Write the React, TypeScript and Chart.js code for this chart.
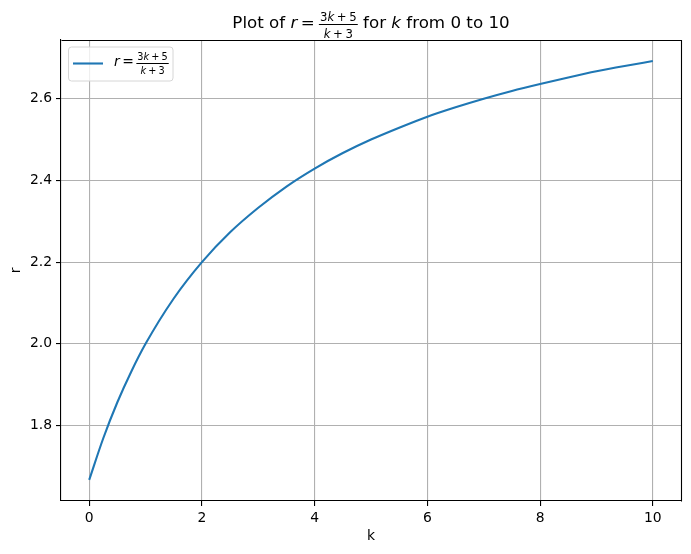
import React, { useEffect, useRef } from "react";
import { Chart, registerables } from "chart.js";

Chart.register(...registerables);

// Data
const kValues = [0, 0.25, 0.5, 0.75, 1, 1.5, 2, 2.5, 3, 3.5, 4, 4.5, 5, 5.5, 6, 6.5, 7, 7.5, 8, 8.5, 9, 9.5, 10];
const rValues = [1.667, 1.769, 1.857, 1.933, 2.0, 2.111, 2.2, 2.273, 2.333, 2.385, 2.429, 2.467, 2.5, 2.529, 2.556, 2.579, 2.6, 2.619, 2.636, 2.652, 2.667, 2.68, 2.692];
const xTicks = [0, 2, 4, 6, 8, 10];
const yTicks = [1.8, 2.0, 2.2, 2.4, 2.6];

const FAMILY = '"DejaVu Sans", sans-serif';
const LINE_COLOR = "#1f77b4";

type Seg = { t?: string; it?: boolean; gap?: number };
type Frac = { num: Seg[]; den: Seg[] };
type Part = Seg | Frac;

const fracNum: Seg[] = [{ t: "3" }, { t: "k", it: true }, { gap: 0.22 }, { t: "+" }, { gap: 0.22 }, { t: "5" }];
const fracDen: Seg[] = [{ t: "k", it: true }, { gap: 0.22 }, { t: "+" }, { gap: 0.22 }, { t: "3" }];

const titleParts: Part[] = [
  { t: "Plot of " },
  { t: "r", it: true },
  { gap: 0.2 },
  { t: "=" },
  { gap: 0.25 },
  { num: fracNum, den: fracDen },
  { t: " for " },
  { t: "k", it: true },
  { t: " from 0 to 10" },
];

const legendParts: Part[] = [
  { t: "r", it: true },
  { gap: 0.18 },
  { t: "=" },
  { gap: 0.18 },
  { num: fracNum, den: fracDen },
];

function fontStr(size: number, it?: boolean) {
  return `${it ? "italic " : ""}${size}px ${FAMILY}`;
}

function segW(ctx: CanvasRenderingContext2D, s: Seg, size: number) {
  if (s.gap !== undefined) return s.gap * size;
  ctx.font = fontStr(size, s.it);
  return ctx.measureText(s.t || "").width;
}

function segsWidth(ctx: CanvasRenderingContext2D, segs: Seg[], size: number) {
  let w = 0;
  for (const s of segs) w += segW(ctx, s, size);
  return w;
}

function drawSegs(ctx: CanvasRenderingContext2D, segs: Seg[], x: number, y: number, size: number) {
  for (const s of segs) {
    if (s.gap === undefined) {
      ctx.font = fontStr(size, s.it);
      ctx.fillText(s.t || "", x, y);
    }
    x += segW(ctx, s, size);
  }
  return x;
}

function isFrac(p: Part): p is Frac {
  return (p as Frac).num !== undefined;
}

function fracWidth(ctx: CanvasRenderingContext2D, p: Frac, size: number) {
  const fs = size * 0.7;
  return Math.max(segsWidth(ctx, p.num, fs), segsWidth(ctx, p.den, fs)) + fs * 0.2;
}

function partsWidth(ctx: CanvasRenderingContext2D, parts: Part[], size: number) {
  let w = 0;
  for (const p of parts) {
    if (isFrac(p)) w += fracWidth(ctx, p, size);
    else w += segW(ctx, p, size);
  }
  return w;
}

function drawMath(ctx: CanvasRenderingContext2D, parts: Part[], x: number, baseline: number, size: number) {
  ctx.save();
  ctx.textAlign = "left";
  ctx.textBaseline = "alphabetic";
  ctx.fillStyle = "#000";
  for (const p of parts) {
    if (isFrac(p)) {
      const fs = size * 0.7;
      const wn = segsWidth(ctx, p.num, fs);
      const wd = segsWidth(ctx, p.den, fs);
      const w = fracWidth(ctx, p, size);
      const bar = baseline - 0.22 * size;
      const th = 1;
      ctx.fillRect(x, Math.round(bar - th / 2), w, th);
      drawSegs(ctx, p.num, x + (w - wn) / 2, bar - 0.2 * size, fs);
      drawSegs(ctx, p.den, x + (w - wd) / 2, bar + 0.78 * size, fs);
      x += w;
    } else {
      x = drawSegs(ctx, [p], x, baseline, size);
    }
  }
  ctx.restore();
}

const decorPlugin = {
  id: "decor",
  afterDraw(chart: any) {
    const ctx: CanvasRenderingContext2D = chart.ctx;
    const area = chart.chartArea;
    // top & right spines
    ctx.save();
    ctx.strokeStyle = "#000";
    ctx.lineWidth = 1.1;
    ctx.beginPath();
    ctx.moveTo(Math.round(area.left) + 0.5, Math.round(area.top) + 0.5);
    ctx.lineTo(Math.round(area.right) + 0.5, Math.round(area.top) + 0.5);
    ctx.lineTo(Math.round(area.right) + 0.5, Math.round(area.bottom) + 0.5);
    ctx.stroke();
    ctx.restore();

    // title
    const ts = 16.7;
    const tw = partsWidth(ctx, titleParts, ts);
    const cx = (area.left + area.right) / 2;
    drawMath(ctx, titleParts, cx - tw / 2, 28.3, ts);

    // legend
    const lx = 68.5, ly = 47, lw = 104.5, lh = 34, rad = 3;
    ctx.save();
    ctx.beginPath();
    ctx.moveTo(lx + rad, ly);
    ctx.lineTo(lx + lw - rad, ly);
    ctx.quadraticCurveTo(lx + lw, ly, lx + lw, ly + rad);
    ctx.lineTo(lx + lw, ly + lh - rad);
    ctx.quadraticCurveTo(lx + lw, ly + lh, lx + lw - rad, ly + lh);
    ctx.lineTo(lx + rad, ly + lh);
    ctx.quadraticCurveTo(lx, ly + lh, lx, ly + lh - rad);
    ctx.lineTo(lx, ly + rad);
    ctx.quadraticCurveTo(lx, ly, lx + rad, ly);
    ctx.closePath();
    ctx.fillStyle = "rgba(255,255,255,0.8)";
    ctx.fill();
    ctx.strokeStyle = "#d6d6d6";
    ctx.lineWidth = 1;
    ctx.stroke();
    ctx.strokeStyle = LINE_COLOR;
    ctx.lineWidth = 2.1;
    ctx.beginPath();
    ctx.moveTo(73, 63.5);
    ctx.lineTo(103, 63.5);
    ctx.stroke();
    ctx.restore();
    drawMath(ctx, legendParts, 114, 66.3, 13.9);
  },
};

export default function App() {
  const ref = useRef<HTMLCanvasElement>(null);
  useEffect(() => {
    if (!ref.current) return;
    const tickFont = { family: FAMILY, size: 13.9 };
    const chart = new Chart(ref.current, {
      type: "line",
      data: {
        datasets: [
          {
            data: kValues.map((k, i) => ({ x: k, y: rValues[i] })),
            borderColor: LINE_COLOR,
            borderWidth: 2.1,
            pointRadius: 0,
            fill: false,
            cubicInterpolationMode: "monotone",
          },
        ],
      },
      options: {
        animation: false,
        responsive: false,
        devicePixelRatio: 1,
        layout: { padding: { left: 0, top: 40, right: 10, bottom: 0 } },
        plugins: { legend: { display: false }, tooltip: { enabled: false }, title: { display: false } },
        scales: {
          x: {
            type: "linear",
            min: -0.5,
            max: 10.5,
            afterBuildTicks: (s: any) => {
              s.ticks = xTicks.map((v) => ({ value: v }));
            },
            afterFit: (s: any) => {
              s.height = 53;
            },
            grid: { color: "#b0b0b0", lineWidth: 1.1, tickColor: "#000", tickLength: 5, tickWidth: 1.1 },
            border: { color: "#000", width: 1.1 },
            ticks: {
              color: "#000",
              font: tickFont,
              padding: 4,
              maxRotation: 0,
              autoSkip: false,
              callback: (v: any) => String(v),
            },
            title: { display: true, text: "k", color: "#000", font: tickFont, padding: { top: 0, bottom: 9 } },
          },
          y: {
            type: "linear",
            min: 1.6154,
            max: 2.7436,
            afterBuildTicks: (s: any) => {
              s.ticks = yTicks.map((v) => ({ value: v }));
            },
            afterFit: (s: any) => {
              s.width = 61;
            },
            grid: { color: "#b0b0b0", lineWidth: 1.1, tickColor: "#000", tickLength: 5, tickWidth: 1.1 },
            border: { color: "#000", width: 1.1 },
            ticks: {
              color: "#000",
              font: tickFont,
              padding: 4,
              autoSkip: false,
              callback: (v: any) => Number(v).toFixed(1),
            },
            title: { display: true, text: "r", color: "#000", font: tickFont, padding: { top: 8, bottom: 0 } },
          },
        },
      },
      plugins: [decorPlugin],
    } as any);
    return () => chart.destroy();
  }, []);
  return (
    <div style={{ position: "absolute", left: 0, top: 0, width: 691, height: 554, background: "#fff" }}>
      <canvas ref={ref} width={691} height={554} style={{ width: 691, height: 554, display: "block" }} />
    </div>
  );
}
